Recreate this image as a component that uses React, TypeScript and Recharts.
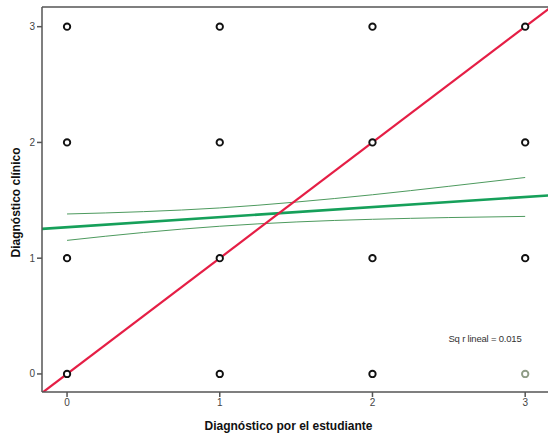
import React from "react";
import {
  ComposedChart,
  XAxis,
  YAxis,
  Scatter,
  Line,
  ReferenceLine,
} from "recharts";

// Observed (student diagnosis, clinical diagnosis) pairs
const studentDx = [0, 0, 0, 0, 1, 1, 1, 1, 2, 2, 2, 2, 3, 3, 3];
const clinicalDx = [0, 1, 2, 3, 0, 1, 2, 3, 0, 1, 2, 3, 1, 2, 3];
const faintPointX = [3];
const faintPointY = [0];

// Linear fit line and its confidence band
const fitX = [-0.2, 3.3];
const fitY = [1.25, 1.555];
const bandX = [0, 0.5, 1, 1.5, 2, 2.5, 3];
const bandUpper = [1.382, 1.402, 1.434, 1.485, 1.548, 1.621, 1.697];
const bandLower = [1.154, 1.222, 1.276, 1.313, 1.336, 1.351, 1.361];

// Reference identity line
const refX = [-0.2, 3.3];
const refY = [-0.2, 3.3];

const xTicks = [0, 1, 2, 3];
const yTicks = [0, 1, 2, 3];

const X_MIN = -0.164;
const X_MAX = 3.3;
const Y_MIN = -0.156;
const Y_MAX = 3.17;

const points = studentDx.map((x, i) => ({ x, y: clinicalDx[i] }));
const faintPoints = faintPointX.map((x, i) => ({ x, y: faintPointY[i] }));
const fitData = fitX.map((x, i) => ({ x, y: fitY[i] }));
const upperData = bandX.map((x, i) => ({ x, y: bandUpper[i] }));
const lowerData = bandX.map((x, i) => ({ x, y: bandLower[i] }));
const refData = refX.map((x, i) => ({ x, y: refY[i] }));

const AXIS = "#555";

const Ring = (color: string) => (props: any) => {
  const { cx, cy } = props;
  if (cx == null || cy == null) return null;
  return (
    <circle cx={cx} cy={cy} r={3.2} fill="#fff" stroke={color} strokeWidth={1.9} />
  );
};

export default function App() {
  return (
    <div
      style={{
        position: "absolute",
        left: 0,
        top: 0,
        width: 548,
        height: 438,
        overflow: "hidden",
        background: "#fff",
      }}
    >
      <ComposedChart
        width={571}
        height={438}
        margin={{ top: 7, right: 0, bottom: 22, left: 22 }}
        style={{ fontFamily: "Liberation Sans, Arial, sans-serif" }}
      >
        <XAxis
          type="number"
          dataKey="x"
          domain={[X_MIN, X_MAX]}
          allowDataOverflow
          ticks={xTicks}
          tickSize={5}
          height={24}
          stroke={AXIS}
          strokeWidth={1.5}
          tick={{ fontSize: 10, fill: "#444" }}
          label={{
            value: "Diagnóstico por el estudiante",
            position: "insideBottom",
            offset: -14,
            dx: -18,
            style: { fontSize: 12, fontWeight: 700, fill: "#111" },
          }}
        />
        <YAxis
          type="number"
          dataKey="y"
          domain={[Y_MIN, Y_MAX]}
          allowDataOverflow
          ticks={yTicks}
          tickSize={5}
          width={20}
          stroke={AXIS}
          strokeWidth={1.5}
          tick={{ fontSize: 10, fill: "#444" }}
          label={{
            value: "Diagnóstico clínico",
            angle: -90,
            position: "insideLeft",
            offset: -6,
            dy: 58,
            style: { fontSize: 12, fontWeight: 700, fill: "#111" },
          }}
        />
        <ReferenceLine y={Y_MAX} stroke={AXIS} strokeWidth={1.5} />
        <Scatter
          data={points}
          dataKey="y"
          shape={Ring("#111")}
          isAnimationActive={false}
        />
        <Scatter
          data={faintPoints}
          dataKey="y"
          shape={Ring("#8f9c86")}
          isAnimationActive={false}
        />
        <Line
          data={upperData}
          dataKey="y"
          type="monotone"
          stroke="#4d9a5e"
          strokeWidth={1}
          dot={false}
          activeDot={false}
          isAnimationActive={false}
        />
        <Line
          data={lowerData}
          dataKey="y"
          type="monotone"
          stroke="#4d9a5e"
          strokeWidth={1}
          dot={false}
          activeDot={false}
          isAnimationActive={false}
        />
        <Line
          data={fitData}
          dataKey="y"
          type="linear"
          stroke="#16a05a"
          strokeWidth={2.6}
          dot={false}
          activeDot={false}
          isAnimationActive={false}
        />
        <Line
          data={refData}
          dataKey="y"
          type="linear"
          stroke="#e51e45"
          strokeWidth={2.2}
          dot={false}
          activeDot={false}
          isAnimationActive={false}
        />
        <text
          x={485}
          y={342}
          textAnchor="middle"
          fontSize={9.5}
          fill="#333"
          style={{ letterSpacing: -0.2 }}
        >
          Sq r lineal = 0.015
        </text>
      </ComposedChart>
    </div>
  );
}
